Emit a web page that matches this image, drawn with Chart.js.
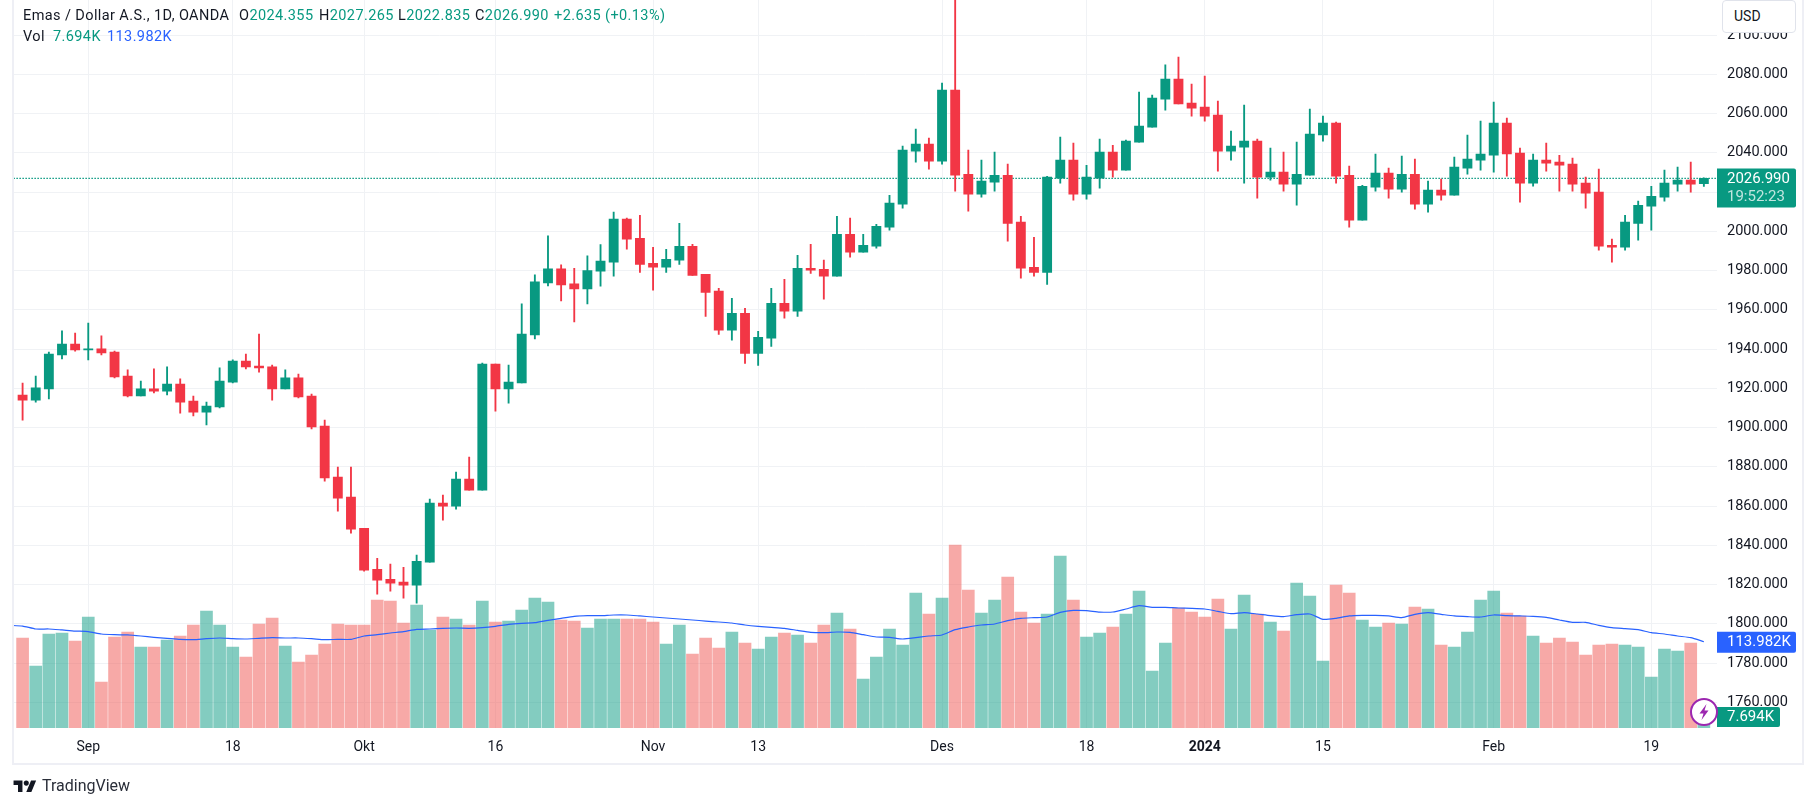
<!DOCTYPE html>
<html>
<head>
<meta charset="utf-8">
<title>Emas / Dollar A.S.</title>
<script src="https://cdn.jsdelivr.net/npm/chart.js@4"></script>
<style>
    html, body { margin: 0; padding: 0; background: #fff; overflow: hidden; }
    body { width: 1815px; height: 807px; position: relative; font-family: Roboto, sans-serif; color: #131722; }
    #c { position: absolute; left: 0; top: 0; }
    .frame { position: absolute; left: 12px; top: -3px; width: 1788px; height: 764px; border: 2px solid #eeeff5; }
    .t { position: absolute; font-size: 14.5px; line-height: 18px; white-space: nowrap; letter-spacing: 0.4px; }
    .g { color: #089981; }
    .b { color: #2962ff; }
    .usd { position: absolute; left: 1722px; top: 0; width: 72px; height: 31px; background: #fff; border: 1px solid #e0e3eb;
        border-radius: 4px; font-size: 14px; line-height: 31px; text-indent: 11px; }
    .mark { position: absolute; left: 1690px; top: 697px; }
    .logo { position: absolute; left: 13px; top: 778px; }
    .tv { position: absolute; left: 42px; top: 776px; font-size: 16px; line-height: 20px; color: #2a2e39; }
</style>
</head>
<body>
<canvas id="c" width="1815" height="807"></canvas>
<div class="frame"></div>

<div class="t" style="left:23px;top:7px">Emas / Dollar A.S., 1D, OANDA</div>
<div class="t" style="left:239px;top:7px">O<span class="g">2024.355</span></div>
<div class="t" style="left:319px;top:7px">H<span class="g">2027.265</span></div>
<div class="t" style="left:398px;top:7px">L<span class="g">2022.835</span></div>
<div class="t" style="left:475px;top:7px">C<span class="g">2026.990</span></div>
<div class="t g" style="left:554px;top:7px">+2.635 (+0.13%)</div>
<div class="t" style="left:23px;top:28px">Vol</div>
<div class="t g" style="left:53px;top:28px">7.694K</div>
<div class="t b" style="left:107px;top:28px">113.982K</div>

<div class="usd">USD</div>

<svg class="mark" width="28" height="30" viewBox="0 0 28 30">
    <circle cx="14" cy="15" r="13" fill="#fff" stroke="#9c27b0" stroke-width="2"/>
    <path d="M16.5 7 L9.5 16.5 H13.5 L11.5 23 L18.5 13.5 H14.5 Z" fill="#9c27b0"/>
</svg>

<svg class="logo" width="24" height="14" viewBox="0 0 36 22">
    <path d="M14 22H7V11H0V4h14v18zM28 22h-8l7.5-18h8L28 22z" fill="#131722"/>
    <circle cx="20" cy="8" r="4" fill="#131722"/>
</svg>
<div class="tv">TradingView</div>

<script>
// daily candles, 25 Aug 2023 - 23 Feb 2024
const opens = [
    1916.6, 1914.0, 1919.7, 1937.0, 1942.6, 1939.6, 1940.1, 1938.5, 1926.3, 1916.1,
    1919.7, 1918.6, 1922.2, 1913.5, 1907.9, 1910.5, 1923.2, 1933.9, 1931.4, 1930.9,
    1919.7, 1925.3, 1916.1, 1900.8, 1874.8, 1864.6, 1848.7, 1827.8, 1822.7, 1821.2,
    1819.7, 1831.4, 1861.5, 1860.0, 1873.7, 1868.1, 1932.4, 1919.7, 1922.7, 1947.2,
    1973.7, 1980.9, 1973.2, 1970.7, 1979.7, 1984.3, 2006.2, 1996.5, 1983.7, 1981.7,
    1985.3, 1992.4, 1978.1, 1969.5, 1949.6, 1958.2, 1937.8, 1945.5, 1963.3, 1959.3,
    1981.2, 1980.7, 1977.1, 1998.5, 1989.4, 1992.4, 2002.1, 2013.8, 2040.9, 2044.5,
    2035.8, 2072.0, 2029.1, 2018.9, 2025.1, 2028.6, 2004.7, 1981.7, 1979.1, 2027.1,
    2036.3, 2018.9, 2027.1, 2040.4, 2031.2, 2045.5, 2053.1, 2067.4, 2077.6, 2065.4,
    2063.3, 2059.3, 2040.9, 2042.9, 2046.0, 2027.6, 2030.2, 2024.0, 2028.6, 2049.1,
    2055.2, 2028.6, 2005.7, 2022.5, 2029.7, 2021.5, 2029.1, 2013.8, 2021.0, 2018.4,
    2032.2, 2036.3, 2038.8, 2055.2, 2039.9, 2024.6, 2036.3, 2035.3, 2034.3, 2024.6,
    2020.0, 1992.9, 1991.9, 2004.1, 2012.8, 2017.4, 2024.0, 2026.1, 2024.355
]
const highs = [
    1922.7, 1926.3, 1938.5, 1949.3, 1948.2, 1953.3, 1946.7, 1939.0, 1929.4, 1923.7,
    1929.9, 1930.9, 1924.8, 1916.1, 1913.0, 1930.4, 1934.5, 1937.5, 1947.7, 1931.9,
    1929.4, 1927.3, 1917.1, 1903.8, 1879.9, 1879.9, 1848.7, 1833.4, 1830.4, 1828.8,
    1835.0, 1863.5, 1865.6, 1877.3, 1885.0, 1932.9, 1932.4, 1931.9, 1963.0, 1977.8,
    1997.7, 1982.9, 1981.2, 1987.5, 1993.3, 2009.8, 2006.7, 2008.2, 1991.9, 1990.9,
    2004.1, 1993.4, 1978.1, 1971.0, 1965.9, 1960.8, 1949.0, 1971.0, 1975.6, 1987.8,
    1993.4, 1985.3, 2007.7, 2006.7, 1998.5, 2003.6, 2018.4, 2043.4, 2052.1, 2047.5,
    2075.6, 2135.0, 2041.4, 2036.3, 2040.4, 2034.3, 2007.7, 1997.0, 2028.1, 2048.0,
    2045.0, 2033.7, 2047.0, 2043.9, 2046.5, 2071.0, 2069.5, 2084.8, 2088.8, 2075.1,
    2079.1, 2066.4, 2051.1, 2064.4, 2047.0, 2042.4, 2040.4, 2045.5, 2062.3, 2058.7,
    2055.7, 2033.2, 2023.5, 2039.4, 2032.2, 2038.3, 2036.8, 2025.6, 2026.6, 2037.8,
    2049.1, 2056.2, 2065.9, 2057.7, 2042.4, 2039.4, 2045.0, 2038.8, 2037.3, 2027.6,
    2031.7, 1996.0, 2008.2, 2015.4, 2023.0, 2031.2, 2032.7, 2035.3, 2027.265
]
const lows = [
    1903.8, 1913.0, 1914.6, 1935.0, 1939.0, 1934.5, 1937.0, 1925.3, 1915.6, 1916.1,
    1917.6, 1916.6, 1907.4, 1905.9, 1901.3, 1910.0, 1922.7, 1929.9, 1928.3, 1914.0,
    1919.7, 1915.1, 1899.3, 1872.7, 1857.4, 1846.2, 1826.8, 1815.1, 1816.6, 1813.0,
    1810.5, 1831.4, 1852.8, 1858.4, 1868.1, 1868.1, 1908.4, 1912.5, 1922.7, 1945.2,
    1972.2, 1964.6, 1953.8, 1963.0, 1972.0, 1977.1, 1990.9, 1979.1, 1970.0, 1979.1,
    1983.2, 1977.6, 1956.7, 1947.5, 1944.5, 1932.7, 1931.7, 1941.4, 1955.7, 1956.7,
    1978.6, 1965.4, 1977.1, 1986.8, 1989.4, 1991.4, 2000.6, 2011.8, 2035.3, 2031.7,
    2034.3, 2020.5, 2010.3, 2017.4, 2020.5, 1995.0, 1976.1, 1977.1, 1973.0, 2024.6,
    2015.9, 2016.4, 2022.0, 2027.6, 2031.2, 2045.5, 2053.1, 2061.8, 2064.9, 2058.7,
    2056.2, 2030.7, 2036.3, 2024.6, 2016.9, 2026.1, 2020.5, 2013.3, 2028.6, 2046.0,
    2024.6, 2002.1, 2005.7, 2020.5, 2016.9, 2020.0, 2011.3, 2009.8, 2015.9, 2018.4,
    2029.1, 2031.2, 2030.2, 2028.1, 2014.9, 2023.0, 2030.7, 2020.5, 2020.5, 2011.8,
    1990.4, 1984.3, 1990.4, 1995.5, 2000.6, 2015.4, 2020.5, 2020.0, 2022.835
]
const closes = [
    1914.0, 1920.2, 1937.5, 1942.6, 1939.6, 1940.1, 1938.0, 1925.8, 1916.1, 1919.7,
    1918.6, 1922.2, 1913.0, 1907.9, 1911.0, 1923.7, 1933.9, 1930.9, 1930.4, 1919.7,
    1925.3, 1915.6, 1900.3, 1874.3, 1864.0, 1848.2, 1827.3, 1822.2, 1820.7, 1819.7,
    1831.9, 1861.5, 1860.0, 1873.7, 1868.1, 1932.4, 1919.7, 1923.2, 1947.7, 1974.3,
    1980.9, 1972.7, 1970.7, 1980.0, 1984.8, 2006.2, 1996.0, 1983.2, 1981.7, 1985.8,
    1992.4, 1977.6, 1968.9, 1949.6, 1958.2, 1937.8, 1946.0, 1963.3, 1959.3, 1981.2,
    1980.2, 1977.1, 1998.5, 1989.4, 1992.9, 2002.6, 2014.4, 2041.4, 2044.5, 2035.8,
    2072.0, 2028.6, 2018.9, 2025.6, 2028.6, 2004.1, 1981.2, 1979.1, 2027.6, 2036.3,
    2018.9, 2027.6, 2040.4, 2031.2, 2046.0, 2053.6, 2067.9, 2077.6, 2064.9, 2062.8,
    2058.7, 2040.9, 2043.4, 2046.0, 2027.6, 2030.2, 2024.0, 2029.1, 2049.6, 2055.2,
    2028.1, 2005.7, 2023.0, 2029.7, 2021.5, 2029.1, 2013.8, 2021.0, 2018.4, 2032.7,
    2036.8, 2039.4, 2055.2, 2039.4, 2024.6, 2036.3, 2034.8, 2033.7, 2024.0, 2019.5,
    1992.4, 1991.9, 2004.7, 2013.3, 2017.9, 2024.6, 2026.1, 2024.0, 2026.99
]
// volume in K
const volumes = [
    118.9, 81.9, 124.2, 125.5, 114.9, 146.6, 60.8, 120.2, 126.8, 107.0,
    107.0, 116.2, 121.5, 136.1, 154.6, 136.1, 107.0, 93.8, 137.4, 145.3,
    108.3, 87.2, 96.4, 111.0, 137.4, 136.1, 136.1, 169.1, 167.8, 138.7,
    162.5, 129.5, 146.6, 144.0, 136.1, 167.8, 140.0, 141.3, 155.9, 171.7,
    166.4, 142.7, 141.3, 132.1, 144.0, 144.0, 144.0, 144.0, 140.0, 111.0,
    136.1, 97.8, 118.9, 105.7, 126.8, 112.3, 104.4, 120.2, 125.5, 122.9,
    112.3, 136.1, 151.9, 130.8, 64.7, 93.8, 130.8, 109.6, 178.3, 150.6,
    171.7, 241.7, 182.3, 151.9, 169.1, 199.5, 153.2, 138.7, 150.6, 227.2,
    169.1, 120.2, 125.5, 133.4, 150.6, 181.0, 75.3, 112.3, 158.5, 153.2,
    146.6, 170.4, 130.8, 175.7, 150.6, 140.0, 128.1, 191.5, 174.4, 88.5,
    188.9, 178.3, 142.7, 133.4, 138.7, 137.4, 159.8, 157.2, 109.6, 107.0,
    126.8, 169.1, 181.0, 151.9, 148.0, 121.5, 112.3, 118.9, 113.6, 96.4,
    109.6, 111.0, 109.6, 107.0, 67.4, 104.4, 101.7, 112.3, 7.694
]
const volumeMa = [
    134.7, 130.8, 130.8, 129.5, 128.1, 127.3, 124.2, 123.3, 122.9, 121.5,
    119.8, 118.5, 117.1, 116.7, 118.0, 118.9, 118.0, 117.6, 118.5, 119.3,
    118.9, 118.9, 118.0, 116.7, 117.1, 117.1, 121.5, 123.3, 125.5, 127.3,
    130.3, 130.8, 131.7, 132.1, 131.7, 132.5, 134.3, 136.9, 138.3, 139.1,
    142.2, 144.9, 147.5, 148.4, 148.4, 149.3, 149.3, 148.0, 146.6, 145.3,
    144.0, 142.7, 141.3, 140.0, 138.7, 136.1, 134.3, 133.0, 131.7, 129.0,
    126.4, 125.9, 126.8, 126.4, 123.3, 120.2, 119.8, 117.6, 119.3, 121.5,
    122.9, 129.9, 133.4, 136.1, 137.4, 141.8, 144.9, 145.8, 146.6, 152.8,
    155.4, 155.0, 153.2, 153.2, 157.2, 161.6, 159.4, 159.4, 158.5, 158.1,
    157.2, 154.1, 151.0, 152.4, 150.6, 148.4, 147.1, 149.7, 150.6, 143.5,
    144.9, 148.0, 148.8, 148.8, 148.0, 145.8, 150.2, 152.4, 150.2, 148.0,
    147.1, 146.6, 149.3, 148.4, 148.0, 147.5, 146.2, 142.7, 139.6, 139.6,
    135.6, 132.5, 131.2, 129.9, 125.9, 124.2, 121.5, 119.3, 113.982
]
const maBefore = 135.6      // bar just left of the visible range, only its line shows
const xTickIndex = [5, 16, 26, 36, 48, 56, 70, 81, 90, 99, 112, 124]
const xTickLabels = ['Sep', '18', 'Okt', '16', 'Nov', '13', 'Des', '18', '2024', '15', 'Feb', '19']
const priceTicks = [1760, 1780, 1800, 1820, 1840, 1860, 1880, 1900, 1920, 1940, 1960, 1980, 2000, 2020, 2040, 2060, 2080, 2100]
const lastPrice = 2026.99
const countdown = '19:52:23'

const green = '#089981'
const red = '#f23645'
const gridColor = '#f0f2f5'
const fontName = 'Roboto, sans-serif'

let isUp = closes.map((c, i) => c >= opens[i])
let candleColors = isUp.map(u => u ? green : red)
let volColors = isUp.map(u => u ? 'rgba(8,153,129,0.5)' : 'rgba(239,83,80,0.5)')

let wicks = highs.map((h, i) => ({ x: i, y: [lows[i], h] }))
let bodies = opens.map((o, i) => ({ x: i, y: [o, closes[i]] }))
let volBars = volumes.map((v, i) => ({ x: i, y: v }))
let maLine = [{ x: -1, y: maBefore }].concat(volumeMa.map((v, i) => ({ x: i, y: v })))

// price and volume tags on the right scale
const tagPlugin = {
    id: 'tags',
    afterDraw(chart) {
        const ctx = chart.ctx
        const y = chart.scales.y
        const vol = chart.scales.vol
        const left = chart.chartArea.right
        const n = volumes.length - 1

        function box(top, w, h, color) {
            ctx.fillStyle = color
            ctx.beginPath()
            ctx.roundRect(left, top, w, h, [0, 2, 2, 0])
            ctx.fill()
        }
        function label(text, x, cy, color) {
            ctx.fillStyle = color
            ctx.fillText(text, x, cy)
        }
        ctx.save()
        ctx.font = '15px ' + fontName
        ctx.textAlign = 'left'
        ctx.textBaseline = 'middle'

        let py = y.getPixelForValue(lastPrice)
        box(py - 10, 79, 39, green)
        label(lastPrice.toFixed(3), left + 10, py + 1, '#fff')
        label(countdown, left + 10, py + 19, 'rgba(255,255,255,0.75)')

        let my = vol.getPixelForValue(volumeMa[n])
        box(my - 10, 79, 21, '#2962ff')
        label(volumeMa[n].toFixed(3) + 'K', left + 10, my + 1, '#fff')

        let bottom = chart.chartArea.bottom
        box(bottom - 21, 63, 20, green)
        label(volumes[n].toFixed(3) + 'K', left + 10, bottom - 10.5, '#fff')
        ctx.restore()
    }
}

new Chart(document.getElementById('c'), {
    data: {
        datasets: [
            { type: 'line', data: maLine, yAxisID: 'vol', borderColor: '#2962ff', borderWidth: 1.2, pointRadius: 0, tension: 0.2, order: 1 },
            { type: 'bar', data: bodies, yAxisID: 'y', backgroundColor: candleColors, barThickness: 9.2, grouped: false, order: 2 },
            { type: 'bar', data: wicks, yAxisID: 'y', backgroundColor: candleColors, barThickness: 1.2, grouped: false, order: 3 },
            { type: 'line', data: [{ x: -0.7, y: lastPrice }, { x: 129, y: lastPrice }], yAxisID: 'y', borderColor: green, borderWidth: 1.4, borderDash: [1.5, 1.5], pointRadius: 0, order: 4 },
            { type: 'bar', data: volBars, yAxisID: 'vol', backgroundColor: volColors, barThickness: 12, grouped: false, order: 5 }
        ]
    },
    options: {
        responsive: false,
        animation: false,
        devicePixelRatio: 1,
        layout: { padding: { left: 13.4, right: 14, top: 0, bottom: 45 } },
        plugins: { legend: { display: false }, tooltip: { enabled: false } },
        scales: {
            x: {
                type: 'linear',
                offset: false,      // bar charts turn this on by default and it shifts the linear range
                min: -0.7,
                max: 129,
                afterBuildTicks: s => { s.ticks = xTickIndex.map(v => ({ value: v })) },
                afterFit: s => { s.height = 34; s.paddingLeft = 0; s.paddingRight = 0 },
                grid: { color: gridColor, drawTicks: false, offset: false },
                border: { display: false },
                ticks: {
                    autoSkip: false,
                    maxRotation: 0,
                    padding: 11,
                    color: '#131722',
                    font: c => ({ family: fontName, size: 14, weight: c.tick && c.tick.value === 90 ? 'bold' : 'normal' }),
                    callback: v => xTickLabels[xTickIndex.indexOf(v)]
                }
            },
            y: {
                position: 'right',
                min: 1746.9,
                max: 2117.9,
                afterBuildTicks: s => { s.ticks = priceTicks.map(v => ({ value: v })) },
                afterFit: s => { s.width = 84; s.paddingTop = 0; s.paddingBottom = 0 },
                grid: { color: gridColor, drawTicks: false },
                border: { display: false },
                ticks: {
                    autoSkip: false,
                    padding: 10,
                    color: '#131722',
                    font: { family: fontName, size: 14.5 },
                    callback: v => v.toFixed(3)
                }
            },
            vol: { display: false, min: 0, max: 961.7 }
        }
    },
    plugins: [tagPlugin]
})
</script>
</body>
</html>
